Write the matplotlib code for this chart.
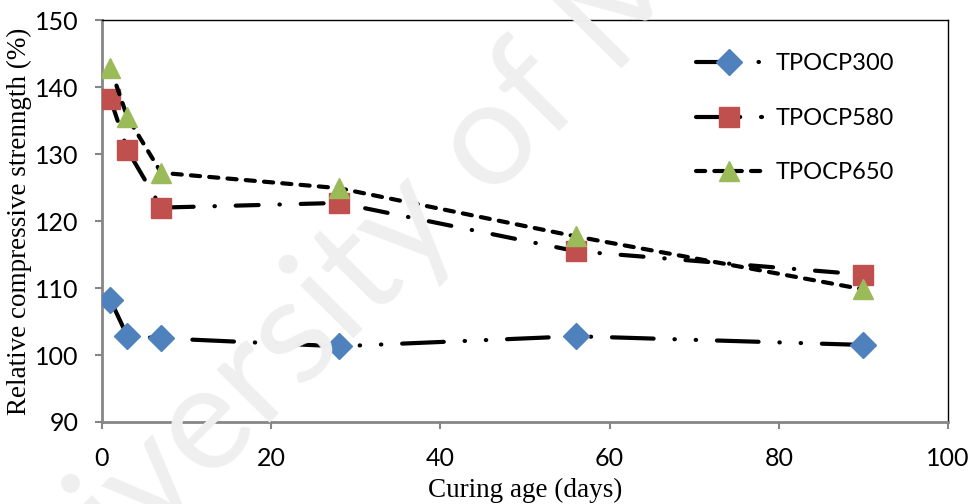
import matplotlib
matplotlib.use('Agg')
import numpy as np
from matplotlib import pyplot as plt

# curing ages (days) and relative compressive strength (%)
curing_days = [1, 3, 7, 28, 56, 90]
tpocp300 = [108.2, 102.8, 102.5, 101.3, 102.8, 101.5]
tpocp580 = [138.2, 130.6, 122.0, 122.7, 115.5, 112.0]
tpocp650 = [142.8, 135.5, 127.2, 124.9, 117.7, 109.8]

series_names = ['TPOCP300', 'TPOCP580', 'TPOCP650']
x_ticks = [0, 20, 40, 60, 80, 100]
y_ticks = [90, 100, 110, 120, 130, 140, 150]

watermark = 'University of Malaya'
tick_font = 'Lato'
label_font = 'Liberation Serif'

fig = plt.figure(figsize=(9.77, 5.04), dpi=100)
ax = fig.add_axes([0.1044, 0.1627, 0.8659, 0.7976])
ax.set_facecolor('none')

# faint watermark: size and start point chosen so that the 'e' and the 'o'
# of the watermark land where they sit in the original
renderer = fig.canvas.get_renderer()


def text_width(s, size):
    t = fig.text(0, 0, s, fontsize=size, family=tick_font)
    w = t.get_window_extent(renderer).width
    t.remove()
    return w


def char_centre(prefix, ch, size):
    return text_width(prefix + ch, size) - text_width(ch, size) / 2


e_px, o_px = (206, 428), (490, 142)   # pixel positions, y from the top
angle = np.degrees(np.arctan2(e_px[1] - o_px[1], o_px[0] - e_px[0]))
d_ref = np.hypot(o_px[0] - e_px[0], o_px[1] - e_px[1])
d100 = char_centre('University ', 'o', 100) - char_centre('Univ', 'e', 100)
wm_size = 100 * d_ref / d100
w_o = char_centre('University ', 'o', wm_size)
rad = np.radians(angle)
start_x = o_px[0] - w_o * np.cos(rad)
start_y = (504 - o_px[1]) - w_o * np.sin(rad)
fig.text(start_x / 977, start_y / 504, watermark, fontsize=wm_size, color='#efefef',
         rotation=angle, rotation_mode='anchor', ha='left', va='center',
         family=tick_font, zorder=0)

lw = 3
styles = [
    dict(marker='D', color='#4F81BD', ms=13, ls=(0, (10, 5, 0.1, 5, 0.1, 5))),
    dict(marker='s', color='#C0504D', ms=14, ls=(0, (5.5, 5, 0.1, 5))),
    dict(marker='^', color='#9BBB59', ms=15, ls=(0, (2.2, 2.2))),
]
for name, vals, st in zip(series_names, [tpocp300, tpocp580, tpocp650], styles):
    ax.plot(curing_days, vals, color='black', lw=lw, linestyle=st['ls'],
            dash_capstyle='round', solid_capstyle='round',
            marker=st['marker'], markersize=st['ms'],
            markerfacecolor=st['color'], markeredgecolor=st['color'],
            label=name, zorder=3)

ax.set_xlim(0, 100)
ax.set_ylim(90, 150)
ax.set_xticks(x_ticks)
ax.set_yticks(y_ticks)
ax.tick_params(direction='out', length=5, width=1.5, color='#868686', labelsize=18)
ax.tick_params(axis='x', pad=13)
ax.tick_params(axis='y', pad=12)
for lab in ax.get_xticklabels() + ax.get_yticklabels():
    lab.set_family(tick_font)

for side in ['left', 'bottom']:
    ax.spines[side].set_color('#868686')
    ax.spines[side].set_linewidth(2)
for side in ['top', 'right']:
    ax.spines[side].set_color('black')
    ax.spines[side].set_linewidth(1)

ax.set_xlabel('Curing age (days)', family=label_font, fontsize=19.5, labelpad=6)
ax.set_ylabel('Relative compressive strenngth (%)', family=label_font, fontsize=19.5, labelpad=2)

leg = ax.legend(loc='upper right', bbox_to_anchor=(0.962, 0.97), frameon=False,
                handlelength=2.8, handletextpad=0.6, labelspacing=1.42, numpoints=1,
                prop={'family': tick_font, 'size': 17})

fig.savefig('out.png', dpi=100)
